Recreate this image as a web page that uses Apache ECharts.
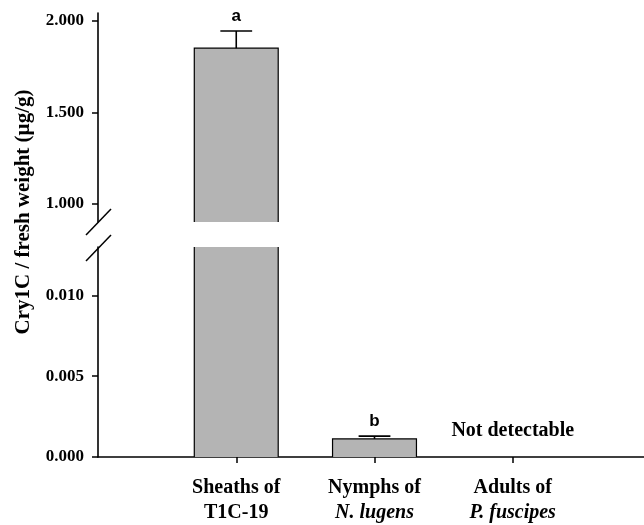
<!DOCTYPE html>
<html><head><meta charset="utf-8">
<script src="https://cdn.jsdelivr.net/npm/echarts@6/dist/echarts.min.js"></script>
<style>html,body{margin:0;padding:0;background:#fff}#c{width:644px;height:525px}</style>
</head><body><div id="c"></div>
<script>
// ---- data ----
const categories = ['Sheaths of\nT1C-19', 'Nymphs of\nN. lugens', 'Adults of\nP. fuscipes'];
const italicSecondLine = [false, true, true];
const means = [1.850, 0.00112, 0];
const errors = [0.094, 0.00017, 0];
const letters = ['a', 'b', ''];
const notes = ['', '', 'Not detectable'];
const upperTicks = [1.000, 1.500, 2.000];
const lowerTicks = [0.000, 0.005, 0.010];
const upperRange = [0.902, 2.042];
const lowerRange = [0, 0.0130];
const yTitle = 'Cry1C / fresh weight (\u00b5g/g)';

// ---- layout / style ----
const SERIF = '"Liberation Serif","Times New Roman",serif';
const SANS = '"Liberation Sans",Arial,sans-serif';
const LEFT = 98, GRID_W = 553;
const UP_TOP = 13, UP_BOTTOM = 222, LO_TOP = 247, LO_BOTTOM = 457;
const BAR_FILL = '#b4b4b4';

const xData = [' '].concat(categories).concat(['  ']);

function renderBars(params, api) {
  const cs = params.coordSys;
  const top = cs.y, bottom = cs.y + cs.height;
  const ci = api.value(0), mean = api.value(1), err = api.value(2), k = api.value(3);
  const band = api.size([1, 0])[0];
  const w = band * 0.607, capW = band * 0.23;
  const cx = api.coord([ci, 0])[0];
  const yBaseRaw = api.coord([ci, 0])[1];
  const yTopRaw = api.coord([ci, mean])[1];
  const clamp = v => Math.max(top, Math.min(bottom, v));
  const children = [];
  const yBase = clamp(yBaseRaw), yTop = clamp(yTopRaw);
  const lineStyle = {stroke: '#000', lineWidth: 1.2, fill: null};
  if (mean > 0 && yBase - yTop > 0.5) {
    const x0 = cx - w / 2, x1 = cx + w / 2;
    children.push({type: 'rect', shape: {x: x0, y: yTop, width: w, height: yBase - yTop}, style: {fill: BAR_FILL}});
    const pts = [];
    pts.push([x0, yBase]);
    pts.push([x0, yTop]);
    if (yTopRaw >= top) { pts.push([x1, yTop]); pts.push([x1, yBase]); }
    else { children.push({type: 'line', shape: {x1: x1, y1: yTop, x2: x1, y2: yBase}, style: lineStyle}); }
    children.push({type: 'polyline', shape: {points: pts}, style: lineStyle});
    const yErrRaw = api.coord([ci, mean + err])[1];
    if (yTopRaw >= top && yTopRaw <= bottom && yErrRaw >= top) {
      children.push({type: 'line', shape: {x1: cx, y1: yTopRaw, x2: cx, y2: yErrRaw}, style: {stroke: '#000', lineWidth: 1.6}});
      children.push({type: 'line', shape: {x1: cx - capW / 2, y1: yErrRaw, x2: cx + capW / 2, y2: yErrRaw}, style: {stroke: '#000', lineWidth: 1.6}});
      if (letters[k]) {
        children.push({type: 'text', style: {text: letters[k], x: cx, y: yErrRaw - 6, font: 'bold 17px ' + SANS, fill: '#000',
          align: 'center', verticalAlign: 'bottom', textAlign: 'center', textVerticalAlign: 'bottom'}});
      }
    }
  }
  if (notes[k] && yBaseRaw <= bottom + 0.5 && yBaseRaw >= top) {
    children.push({type: 'text', style: {text: notes[k], x: cx, y: yBaseRaw - 26, font: 'bold 20px ' + SERIF, fill: '#000',
      align: 'center', verticalAlign: 'middle', textAlign: 'center', textVerticalAlign: 'middle'}});
  }
  return {type: 'group', children: children};
}

const seriesData = categories.map((c, i) => [i + 1, means[i], errors[i], i]);

const yLabel = {fontFamily: SERIF, fontWeight: 'bold', fontSize: 17, color: '#000', margin: 14,
  formatter: v => Number(v).toFixed(3)};

const option = {
  animation: false,
  backgroundColor: '#fff',
  grid: [
    {left: LEFT, width: GRID_W, top: UP_TOP, height: UP_BOTTOM - UP_TOP, outerBoundsMode: 'none', containLabel: false},
    {left: LEFT, width: GRID_W, top: LO_TOP, height: LO_BOTTOM - LO_TOP, outerBoundsMode: 'none', containLabel: false}
  ],
  xAxis: [
    {gridIndex: 0, type: 'category', data: xData, boundaryGap: false, show: false},
    {gridIndex: 1, type: 'category', data: xData, boundaryGap: false,
      axisLine: {lineStyle: {color: '#000', width: 1.6}},
      axisTick: {length: 6, lineStyle: {color: '#000', width: 1.5}, interval: (i) => i >= 1 && i <= categories.length},
      axisLabel: {interval: 0, margin: 18,
        formatter: function (v, idx) {
          const i = idx - 1;
          if (i < 0 || i >= categories.length) return '';
          const parts = categories[i].split('\n');
          return '{n|' + parts[0] + '}\n{' + (italicSecondLine[i] ? 'i' : 'n') + '|' + parts[1] + '}';
        },
        rich: {
          n: {fontFamily: SERIF, fontWeight: 'bold', fontSize: 20, lineHeight: 25, color: '#000'},
          i: {fontFamily: SERIF, fontWeight: 'bold', fontStyle: 'italic', fontSize: 20, lineHeight: 25, color: '#000'}
        }},
      splitLine: {show: false}}
  ],
  yAxis: [
    {gridIndex: 0, type: 'value', min: upperRange[0], max: upperRange[1],
      axisLine: {show: true, lineStyle: {color: '#000', width: 1.6}},
      axisTick: {show: true, length: 6, lineStyle: {color: '#000', width: 1.5}, customValues: upperTicks},
      axisLabel: Object.assign({customValues: upperTicks}, yLabel),
      splitLine: {show: false}},
    {gridIndex: 1, type: 'value', min: lowerRange[0], max: lowerRange[1],
      axisLine: {show: true, lineStyle: {color: '#000', width: 1.6}},
      axisTick: {show: true, length: 6, lineStyle: {color: '#000', width: 1.5}, customValues: lowerTicks},
      axisLabel: Object.assign({customValues: lowerTicks}, yLabel),
      splitLine: {show: false}}
  ],
  graphic: [
    {type: 'text', x: 24, y: 212, rotation: Math.PI / 2,
      style: {text: yTitle, font: 'bold 21px ' + SERIF, fill: '#000', align: 'center', verticalAlign: 'middle',
        textAlign: 'center', textVerticalAlign: 'middle'}},
    {type: 'line', shape: {x1: 86, y1: 235, x2: 111, y2: 209}, style: {stroke: '#000', lineWidth: 1.5}},
    {type: 'line', shape: {x1: 86, y1: 261, x2: 111, y2: 235}, style: {stroke: '#000', lineWidth: 1.5}}
  ],
  series: [
    {type: 'custom', xAxisIndex: 0, yAxisIndex: 0, renderItem: renderBars, data: seriesData, z: 3},
    {type: 'custom', xAxisIndex: 1, yAxisIndex: 1, renderItem: renderBars, data: seriesData, z: 3}
  ]
};

const chart = echarts.init(document.getElementById('c'), null, {renderer: 'canvas'});
chart.setOption(option);
</script>
</body></html>
